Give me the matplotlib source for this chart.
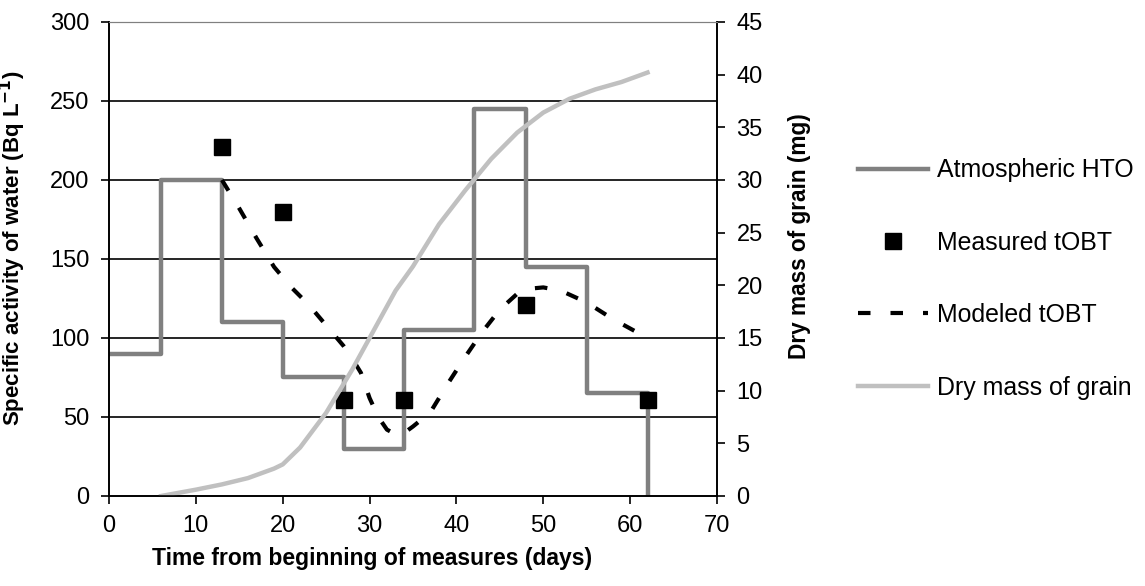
import numpy as np
import matplotlib.pyplot as plt

plt.rcParams['font.family'] = ['Liberation Sans', 'DejaVu Sans']

# atmospheric HTO step levels (Bq/L), value held from each day until the next
hto_days = [0, 6, 13, 20, 27, 34, 42, 48, 55, 62]
hto_vals = [90, 200, 110, 75, 30, 105, 245, 145, 65, 0]

# measured tOBT
meas_days = [13, 20, 27, 34, 48, 62]
meas_vals = [221, 180, 61, 61, 121, 61]

# modeled tOBT
mod_days = [13, 15, 17, 19, 21, 23, 25, 27, 28, 29, 30, 31, 32, 33, 34, 35,
            37, 39, 41, 43, 45, 47, 48, 50, 52, 54, 56, 58, 60, 62]
mod_vals = [200, 182, 163, 145, 132, 121, 108, 95, 87, 78, 62, 50, 42, 39, 40, 44,
            53, 71, 88, 104, 118, 128, 131, 132, 130, 125, 119, 112, 106, 100]

# dry mass of grain (mg)
grain_days = [6, 10, 13, 16, 19, 20, 22, 25, 28, 30, 33, 35, 38, 41, 44, 47,
              50, 53, 56, 59, 62]
grain_vals = [0, 0.6, 1.1, 1.7, 2.6, 3.0, 4.6, 7.9, 12, 15, 19.5, 21.8, 25.8, 29,
              32, 34.5, 36.4, 37.7, 38.6, 39.3, 40.2]

fig = plt.figure(figsize=(11.45, 5.86), dpi=100)
ax = fig.add_axes([0.0952, 0.1536, 0.5310, 0.8089])
ax2 = ax.twinx()

for y in [50, 100, 150, 200, 250]:
    ax.axhline(y, color='black', lw=1.2, zorder=0)

l1, = ax.step(hto_days, hto_vals, where='post', color='#808080', lw=3.2,
              label='Atmospheric HTO')
l3, = ax.plot(mod_days, mod_vals, color='black', lw=3, ls=(0, (3, 4.8)),
              label='Modeled tOBT')
l2, = ax.plot(meas_days, meas_vals, 's', color='black', ms=12, ls='none',
              label='Measured tOBT')
l4, = ax2.plot(grain_days, grain_vals, color='#c0c0c0', lw=3.2,
               label='Dry mass of grain')

ax.set_xlim(0, 70)
ax.set_ylim(0, 300)
ax2.set_ylim(0, 45)
ax.set_xticks(np.arange(0, 71, 10))
ax.set_yticks(np.arange(0, 301, 50))
ax2.set_yticks(np.arange(0, 46, 5))

for a in (ax, ax2):
    a.spines['top'].set_color('#808080')
    a.spines['left'].set_linewidth(1.2)
    a.spines['right'].set_linewidth(1.2)
    a.spines['bottom'].set_linewidth(1.2)
    a.tick_params(direction='out', length=6, width=1.2, labelsize=17, pad=8)

ax.set_xlabel('Time from beginning of measures (days)', fontsize=16.5,
              fontweight='bold')
ax.set_ylabel('Specific activity of water (Bq L$^{\\mathbf{-1}}$)', fontsize=16,
              fontweight='bold')
ax2.set_ylabel('Dry mass of grain (mg)', fontsize=16.3, fontweight='bold')
ax.xaxis.set_label_coords(0.4326, -0.108)
ax.yaxis.set_label_coords(-0.133, 0.523)
ax2.yaxis.set_label_coords(1.117, 0.549)

fig.legend(handles=[l1, l2, l3, l4], loc='center left',
           bbox_to_anchor=(0.749, 0.524), frameon=False, fontsize=17.9,
           handlelength=2.85, handletextpad=0.33, labelspacing=1.95,
           borderpad=0, borderaxespad=0, numpoints=1)

fig.savefig('out.png', dpi=100)
